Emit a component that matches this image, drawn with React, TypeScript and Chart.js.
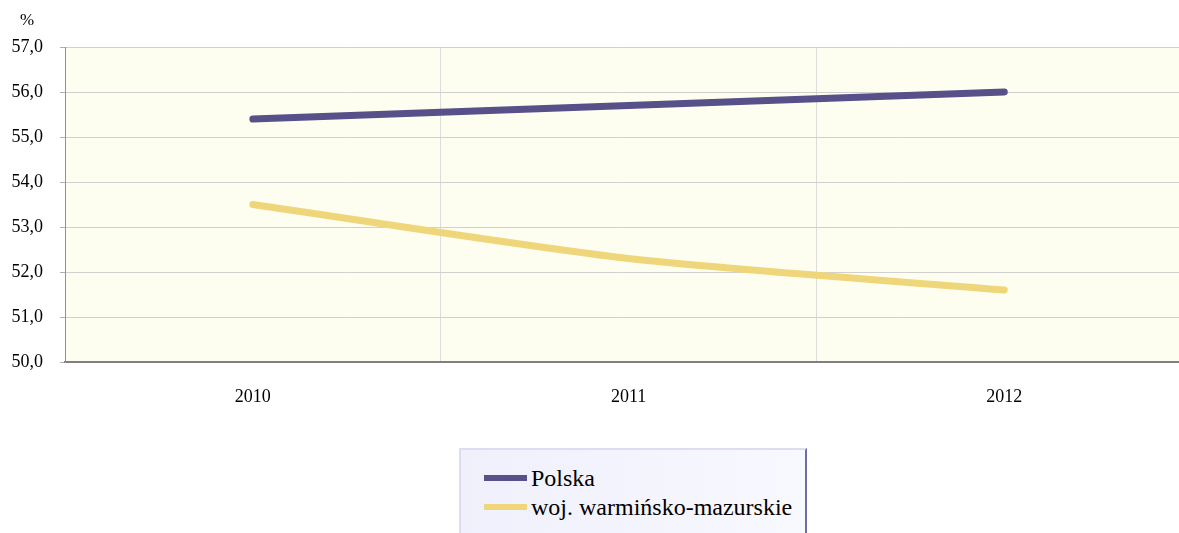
import React, { useEffect, useRef } from "react";
import { Chart, registerables } from "chart.js";

Chart.register(...registerables);

const years = [2010, 2011, 2012];
const polska = [55.4, 55.7, 56.0];
const warminsko = [53.5, 52.3, 51.6];
const seriesNames = ["Polska", "woj. warmińsko-mazurskie"];
const seriesColors = ["#575089", "#F0D67A"];
const yMin = 50;
const yMax = 57;
const unitLabel = "%";

const FONT = "'Liberation Serif', 'Times New Roman', serif";

const unitPlugin = {
  id: "unitLabel",
  afterDraw(chart: any) {
    const ctx = chart.ctx;
    ctx.save();
    ctx.font = `17px ${FONT}`;
    ctx.fillStyle = "#000";
    ctx.textAlign = "center";
    ctx.textBaseline = "middle";
    ctx.fillText(unitLabel, 27, 21);
    ctx.restore();
  },
};

const bgPlugin = {
  id: "plotBg",
  beforeDraw(chart: any) {
    const { ctx, chartArea } = chart;
    ctx.save();
    ctx.fillStyle = "#FEFEF0";
    ctx.fillRect(chartArea.left, chartArea.top, chartArea.right - chartArea.left, chartArea.bottom - chartArea.top);
    ctx.restore();
  },
};

export default function App() {
  const ref = useRef<HTMLCanvasElement | null>(null);
  useEffect(() => {
    if (!ref.current) return;
    const chart = new Chart(ref.current, {
      type: "line",
      data: {
        datasets: [
          {
            label: seriesNames[0],
            data: years.map((x, i) => ({ x, y: polska[i] })),
            borderColor: seriesColors[0],
            backgroundColor: seriesColors[0],
            borderWidth: 7,
            borderCapStyle: "round",
            pointRadius: 0,
            tension: 0.25,
          },
          {
            label: seriesNames[1],
            data: years.map((x, i) => ({ x, y: warminsko[i] })),
            borderColor: seriesColors[1],
            backgroundColor: seriesColors[1],
            borderWidth: 7,
            borderCapStyle: "round",
            pointRadius: 0,
            tension: 0.25,
          },
        ],
      },
      options: {
        animation: false,
        responsive: false,
        maintainAspectRatio: false,
        layout: { padding: { top: 47, left: 0, right: 0, bottom: 0 } },
        plugins: { legend: { display: false }, tooltip: { enabled: false } },
        scales: {
          x: {
            type: "linear",
            min: years[0] - 0.5,
            max: years[years.length - 1] + 0.465,
            afterBuildTicks(scale: any) {
              const t: any[] = [];
              years.forEach((y, i) => {
                t.push({ value: y });
                if (i < years.length - 1) t.push({ value: y + 0.5 });
              });
              scale.ticks = t;
            },
            afterFit(scale: any) {
              scale.height = 171;
            },
            ticks: {
              autoSkip: false,
              maxRotation: 0,
              padding: 24,
              color: "#000",
              font: { family: FONT, size: 18 },
              callback: (v: any) => (Number.isInteger(v) ? String(v) : ""),
            },
            grid: {
              drawTicks: false,
              color: (c: any) => (c.tick && Number.isInteger(c.tick.value) ? "rgba(0,0,0,0)" : "#DCDCDC"),
              lineWidth: 1,
            },
            border: { color: "#808080", width: 2 },
          },
          y: {
            min: yMin,
            max: yMax,
            afterFit(scale: any) {
              scale.width = 65;
            },
            ticks: {
              stepSize: 1,
              padding: 17,
              color: "#000",
              font: { family: FONT, size: 18 },
              callback: (v: any) => Number(v).toFixed(1).replace(".", ","),
            },
            grid: {
              color: "#D0D0D0",
              tickLength: 5,
              tickColor: "#B0B0B0",
              lineWidth: 1,
            },
            border: { color: "#909090", width: 1 },
          },
        },
      },
      plugins: [bgPlugin, unitPlugin],
    } as any);
    return () => chart.destroy();
  }, []);

  return (
    <div style={{ position: "absolute", left: 0, top: 0, width: 1179, height: 533, overflow: "hidden", background: "#fff" }}>
      <canvas ref={ref} width={1179} height={533} style={{ display: "block" }} />
      <div
        style={{
          position: "absolute",
          left: 459,
          top: 448,
          width: 348,
          height: 100,
          background: "linear-gradient(to right, #F0F0FC, #F8F8FF)",
          borderTop: "2px solid #DCDCF2",
          borderLeft: "2px solid #DCDCF2",
          borderRight: "2px solid #6E6EA0",
          boxSizing: "border-box",
          fontFamily: FONT,
          fontSize: 24,
          color: "#000",
        }}
      >
        {seriesNames.map((n, i) => (
          <div key={n} style={{ position: "absolute", left: 23, top: 14 + i * 29, height: 28, display: "flex", alignItems: "center", whiteSpace: "nowrap", lineHeight: "28px" }}>
            <span style={{ display: "inline-block", width: 43, height: 6, background: seriesColors[i], marginRight: 4 }} />
            <span>{n}</span>
          </div>
        ))}
      </div>
    </div>
  );
}
